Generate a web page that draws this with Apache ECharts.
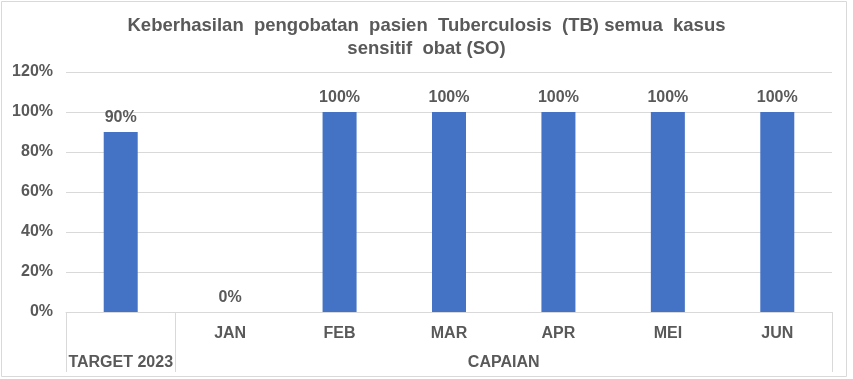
<!DOCTYPE html>
<html><head><meta charset="utf-8">
<script src="https://cdn.jsdelivr.net/npm/echarts@6/dist/echarts.min.js"></script>
<style>html,body{margin:0;padding:0;background:#fff}#c{width:853px;height:379px}</style>
</head><body><div id="c"></div>
<script>
const titleText = 'Keberhasilan  pengobatan  pasien  Tuberculosis  (TB) semua  kasus\nsensitif  obat (SO)';
const categories = ['TARGET 2023', 'JAN', 'FEB', 'MAR', 'APR', 'MEI', 'JUN'];
const monthLabels = ['', 'JAN', 'FEB', 'MAR', 'APR', 'MEI', 'JUN'];
const values = [0.9, 0, 1, 1, 1, 1, 1];
const groupLabels = [{ at: 0.5, text: 'TARGET 2023' }, { at: 4, text: 'CAPAIAN' }];
const yTicks = [0, 0.2, 0.4, 0.6, 0.8, 1.0, 1.2];

const textColor = '#595959';
const font = 'Liberation Sans, Arial, sans-serif';
const chart = echarts.init(document.getElementById('c'));
chart.setOption({
  animation: false,
  title: {
    text: titleText, left: 'center', top: 9,
    textStyle: { fontFamily: font, fontSize: 18.5, fontWeight: 'bold', color: textColor, lineHeight: 23 }
  },
  graphic: [{ type: 'rect', shape: { x: 1.5, y: 1.5, width: 845, height: 375 }, style: { fill: 'none', stroke: '#d9d9d9', lineWidth: 1 }, silent: true }],
  grid: { left: 66, right: 21, top: 72, bottom: 67 },
  xAxis: [
    {
      type: 'category', data: categories, position: 'bottom',
      axisLine: { show: true, lineStyle: { color: '#d9d9d9' } },
      axisTick: { show: false },
      axisLabel: { interval: 0, margin: 14, fontFamily: font, fontSize: 16, fontWeight: 'bold', color: textColor,
        formatter: (v, i) => monthLabels[i] }
    },
    {
      type: 'category', data: categories, position: 'bottom',
      axisLine: { show: false },
      axisTick: { show: true, interval: (i) => i <= 1, length: 60, lineStyle: { color: '#d9d9d9' } },
      axisLabel: { show: false }
    },
    {
      type: 'value', min: 0, max: 7, interval: 0.5, position: 'bottom',
      axisLine: { show: false }, axisTick: { show: false }, splitLine: { show: false },
      axisLabel: { margin: 43, fontFamily: font, fontSize: 16, fontWeight: 'bold', color: textColor,
        formatter: (v) => { const g = groupLabels.find(x => Math.abs(x.at - v) < 1e-6); return g ? g.text : ''; } }
    }
  ],
  yAxis: {
    type: 'value', min: 0, max: 1.2, interval: 0.2,
    axisLine: { show: false }, axisTick: { show: false },
    splitLine: { lineStyle: { color: '#d9d9d9' } },
    axisLabel: { margin: 13, fontFamily: font, fontSize: 16, fontWeight: 'bold', color: textColor,
      formatter: (v) => Math.round(v * 100) + '%' }
  },
  series: [{
    type: 'bar', data: values, xAxisIndex: 0, barWidth: 34,
    itemStyle: { color: '#4472C4' },
    label: { show: true, position: 'top', distance: 6, fontFamily: font, fontSize: 16, fontWeight: 'bold', color: textColor,
      formatter: (p) => Math.round(p.value * 100) + '%' }
  }]
});
</script></body></html>
